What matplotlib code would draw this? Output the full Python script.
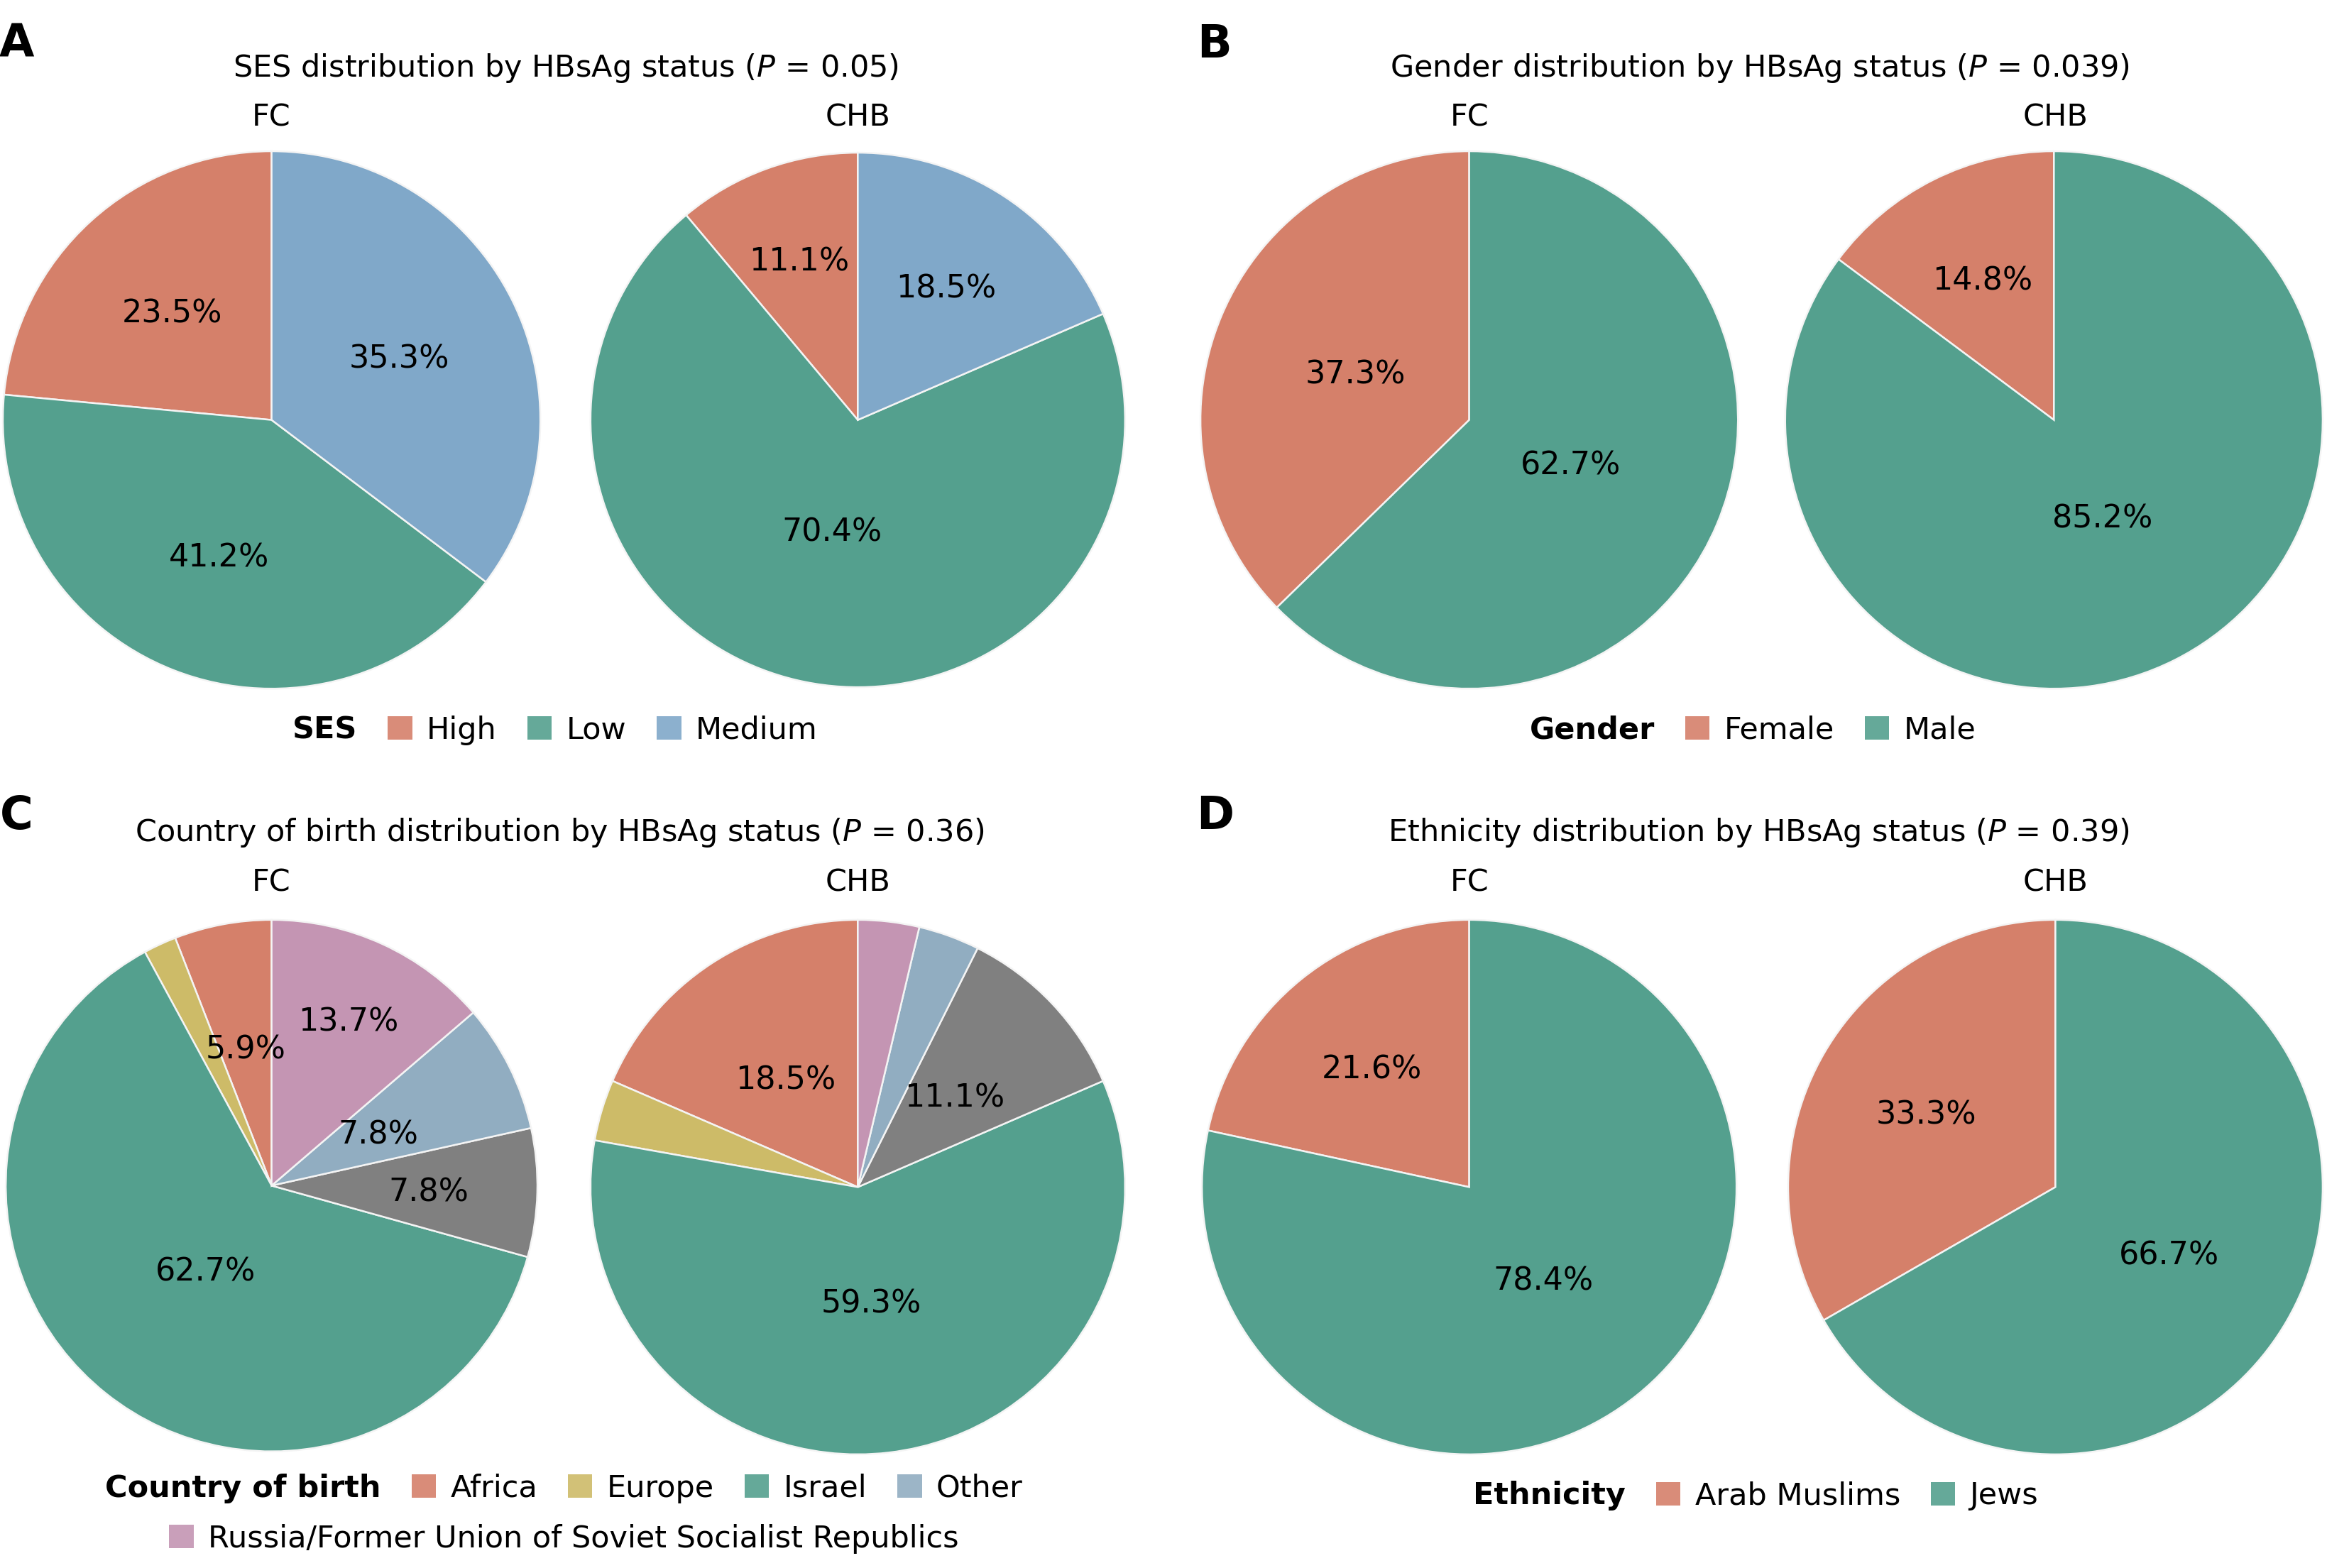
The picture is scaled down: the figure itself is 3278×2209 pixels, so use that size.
import matplotlib
matplotlib.use("Agg")
import matplotlib.pyplot as plt
from matplotlib.patches import Patch
import numpy as np

plt.rcParams['font.family'] = ['DejaVu Sans']
plt.rcParams['mathtext.fontset'] = 'dejavusans'

# ---------------- data (percentages as printed) ----------------
ses_categories = ["High", "Low", "Medium"]
ses_fc = [23.5, 41.2, 35.3]
ses_chb = [11.1, 70.4, 18.5]

gender_categories = ["Female", "Male"]
gender_fc = [37.3, 62.7]
gender_chb = [14.8, 85.2]

cob_categories = ["Africa", "Europe", "Israel", "NA", "Other",
                  "Russia/Former Union of Soviet Socialist Republics"]
cob_fc = [5.9, 2.0, 62.7, 7.8, 7.8, 13.7]
cob_chb = [18.5, 3.7, 59.3, 11.1, 3.7, 3.7]

eth_categories = ["Arab Muslims", "Jews"]
eth_fc = [21.6, 78.4]
eth_chb = [33.3, 66.7]

groups = ["FC", "CHB"]
titles = ["SES distribution by HBsAg status ($\\mathit{P}$ = 0.05)",
          "Gender distribution by HBsAg status ($\\mathit{P}$ = 0.039)",
          "Country of birth distribution by HBsAg status ($\\mathit{P}$ = 0.36)",
          "Ethnicity distribution by HBsAg status ($\\mathit{P}$ = 0.39)"]
legend_titles = ["SES", "Gender", "Country of birth", "Ethnicity"]
panel_letters = ["A", "B", "C", "D"]
label_min_pct = 5.0

# ---------------- style ----------------
ORANGE = "#D5806A"
GREEN = "#54A08E"
BLUE = "#80A8C9"
PINK = "#C495B3"
YELLOW = "#CDBB68"
GRAY = "#808080"
OTHER = "#91ADC1"

ses_colors = [ORANGE, GREEN, BLUE]
gender_colors = [ORANGE, GREEN]
cob_colors = [ORANGE, YELLOW, GREEN, GRAY, OTHER, PINK]
eth_colors = [ORANGE, GREEN]

# label radial fractions per wedge (style)
lr_ses_fc = [0.55, 0.54, 0.53]
lr_ses_chb = [0.64, 0.42, 0.60]
lr_gen_fc = [0.46, 0.41]
lr_gen_chb = [0.59, 0.40]
lr_cob_fc = [0.53, 0.5, 0.40, 0.59, 0.45, 0.69]
lr_cob_chb = [0.49, 0.5, 0.43, 0.50, 0.5, 0.5]
lr_eth_fc = [0.58, 0.44]
lr_eth_chb = [0.56, 0.49]

W_PX, H_PX = 3278, 2209
DPI = 200
REF_W, REF_H = 1568.0, 1056.7
FS = 15.5
PCT_FS = 16
TXT_DY = 2.0   # small vertical nudge for text centring

fig = plt.figure(figsize=(W_PX / DPI, H_PX / DPI), dpi=DPI)
fig.patch.set_facecolor("white")


def fx(x):
    return x / REF_W


def fy(y):
    return 1 - y / REF_H


def draw_pie(cx, cy, r, values, colors, lrad):
    ax = fig.add_axes([fx(cx - r), fy(cy + r), 2 * r / REF_W, 2 * r / REF_H])
    wedges, _ = ax.pie(values, colors=colors, startangle=90, counterclock=True,
                       radius=1.0,
                       wedgeprops=dict(edgecolor="#F4F4F4", linewidth=0.9))
    for w, v, lr in zip(wedges, values, lrad):
        if v < label_min_pct:
            continue
        mid = np.deg2rad((w.theta1 + w.theta2) / 2.0)
        ax.text(lr * np.cos(mid), lr * np.sin(mid) - TXT_DY / r, f"{v:.1f}%",
                ha="center", va="center", fontsize=PCT_FS, color="black")
    ax.set_xlim(-1.005, 1.005)
    ax.set_ylim(-1.005, 1.005)
    ax.set_aspect("equal")
    ax.axis("off")
    return ax


def draw_legend(cx, y, title, cats, colors, skip=()):
    handles = [Patch(facecolor="none", edgecolor="none")]
    labels = [title]
    for c, col in zip(cats, colors):
        if c in skip:
            continue
        handles.append(Patch(facecolor=col, edgecolor="none", alpha=0.9))
        labels.append(c)
    hl, htp = 0.8, 0.47
    shift_px = (hl + htp) * FS * DPI / 72.0
    shift_ref = shift_px / (W_PX / REF_W)
    leg = fig.legend(handles, labels, loc="center",
                     bbox_to_anchor=(fx(cx - shift_ref / 2.0), fy(y + TXT_DY)),
                     ncol=len(handles), frameon=False, fontsize=FS,
                     handlelength=hl, handleheight=0.8, handletextpad=htp,
                     columnspacing=1.0, borderpad=0, borderaxespad=0)
    leg.get_texts()[0].set_fontweight("bold")
    return leg


# ---------------- panel A ----------------
draw_pie(183, 283, 182, ses_fc, ses_colors, lr_ses_fc)
draw_pie(578, 283, 181, ses_chb, ses_colors, lr_ses_chb)
# ---------------- panel B ----------------
draw_pie(990, 283, 182, gender_fc, gender_colors, lr_gen_fc)
draw_pie(1384, 283, 182, gender_chb, gender_colors, lr_gen_chb)
# ---------------- panel C ----------------
draw_pie(183, 799, 180, cob_fc, cob_colors, lr_cob_fc)
draw_pie(578, 800, 181, cob_chb, cob_colors, lr_cob_chb)
# ---------------- panel D ----------------
draw_pie(990, 800, 181, eth_fc, eth_colors, lr_eth_fc)
draw_pie(1385, 800, 181, eth_chb, eth_colors, lr_eth_chb)

# titles
title_pos = [(381, 44), (1186, 44), (377, 559), (1185, 559)]
for t, (x, y) in zip(titles, title_pos):
    fig.text(fx(x), fy(y + TXT_DY), t, ha="center", va="center", fontsize=FS)

# sub titles
sub_pos = [[(183, 77), (578, 77)], [(990, 77), (1385, 77)],
           [(183, 593), (578, 593)], [(990, 593), (1385, 593)]]
for pos in sub_pos:
    for g, (x, y) in zip(groups, pos):
        fig.text(fx(x), fy(y + TXT_DY), g, ha="center", va="center", fontsize=FS)

# panel letters
letter_pos = [(11, 30), (818, 30), (11, 550), (819, 550)]
for L, (x, y) in zip(panel_letters, letter_pos):
    fig.text(fx(x), fy(y), L, ha="center", va="center", fontsize=23,
             fontweight="bold")

# legends
draw_legend(374, 490, legend_titles[0], ses_categories, ses_colors)
draw_legend(1181, 490, legend_titles[1], gender_categories, gender_colors)
draw_legend(380, 1001, legend_titles[2], cob_categories, cob_colors,
            skip=("NA", cob_categories[-1]))
fig.legend([Patch(facecolor=PINK, edgecolor="none", alpha=0.9)], [cob_categories[-1]],
           loc="center", bbox_to_anchor=(fx(380), fy(1035 + TXT_DY)), frameon=False,
           fontsize=FS, handlelength=0.8, handleheight=0.8, handletextpad=0.47,
           borderpad=0, borderaxespad=0)
draw_legend(1183, 1006, legend_titles[3], eth_categories, eth_colors)

fig.savefig("out.png", dpi=DPI, facecolor="white")
